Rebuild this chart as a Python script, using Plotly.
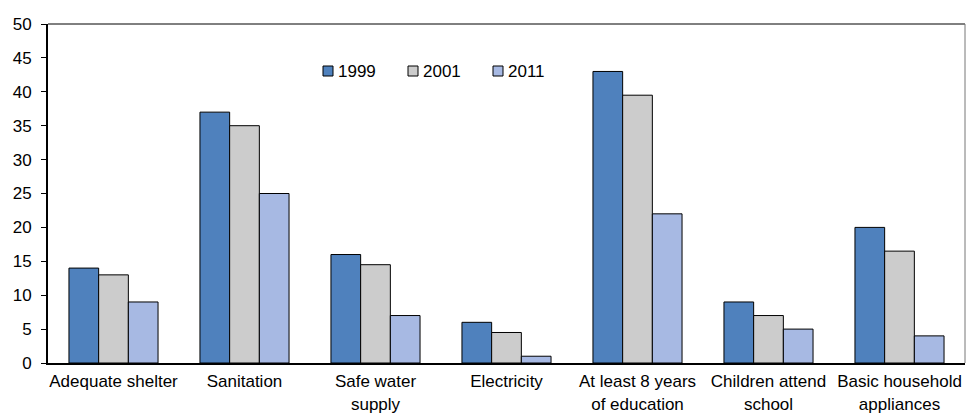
import plotly.graph_objects as go

categories = ["Adequate shelter", "Sanitation", "Safe water<br>supply", "Electricity",
              "At least 8 years<br>of education", "Children attend<br>school", "Basic household<br>appliances"]
series_names = ["1999", "2001", "2011"]
v1999 = [14, 37, 16, 6, 43, 9, 20]
v2001 = [13, 35, 14.5, 4.5, 39.5, 7, 16.5]
v2011 = [9, 25, 7, 1, 22, 5, 4]
colors = ["#4f81bd", "#cccccc", "#a7b9e3"]
y_ticks = list(range(0, 51, 5))

W, H = 966, 414
ml, mr, mt, mb = 48, 1, 24, 51
pw, ph = W - ml - mr, H - mt - mb

fig = go.Figure()
for name, vals, c in zip(series_names, [v1999, v2001, v2011], colors):
    fig.add_trace(go.Bar(x=categories, y=vals, name=name, showlegend=False,
                         marker=dict(color=c, line=dict(color="black", width=1))))

# top/right thin frame
fig.add_shape(type="line", xref="paper", yref="paper", x0=0, x1=1, y0=1, y1=1,
              line=dict(color="black", width=1))
fig.add_shape(type="line", xref="paper", yref="paper", x0=1, x1=1, y0=0, y1=1,
              line=dict(color="#777777", width=1))

# custom legend (pixel positions converted to paper coords)
leg_x = [323, 408, 493]
leg_y = 71
for name, c, lx in zip(series_names, colors, leg_x):
    x0 = (lx - ml) / pw
    x1 = (lx + 10 - ml) / pw
    y0 = 1 - (leg_y + 5 - mt) / ph
    y1 = 1 - (leg_y - 5 - mt) / ph
    fig.add_shape(type="rect", xref="paper", yref="paper", x0=x0, x1=x1, y0=y0, y1=y1,
                  fillcolor=c, line=dict(color="black", width=1))
    fig.add_annotation(xref="paper", yref="paper", x=(lx + 13 - ml) / pw,
                       y=1 - (leg_y - mt) / ph, text=name, showarrow=False,
                       xanchor="left", yanchor="middle",
                       font=dict(size=17, color="black"))

fig.update_layout(
    width=W, height=H,
    margin=dict(l=ml, r=mr, t=mt, b=mb, autoexpand=False),
    barmode="group", bargap=0.32, bargroupgap=0,
    plot_bgcolor="white", paper_bgcolor="white",
    font=dict(family="Liberation Sans, Arial", size=17, color="black"),
)
fig.update_xaxes(showline=True, linecolor="black", linewidth=2, automargin=False,
                 ticks="", tickfont=dict(size=17), ticklabelstandoff=2)
fig.update_yaxes(range=[0, 50], tickvals=y_ticks, showgrid=False, zeroline=False,
                 showline=True, linecolor="black", linewidth=2, automargin=False,
                 ticks="outside", ticklen=5, tickcolor="black", tickwidth=1,
                 ticklabelstandoff=6, tickfont=dict(size=17))

fig.write_html("out.html", config={"displayModeBar": False},
               post_script="document.body.style.margin='0';")
